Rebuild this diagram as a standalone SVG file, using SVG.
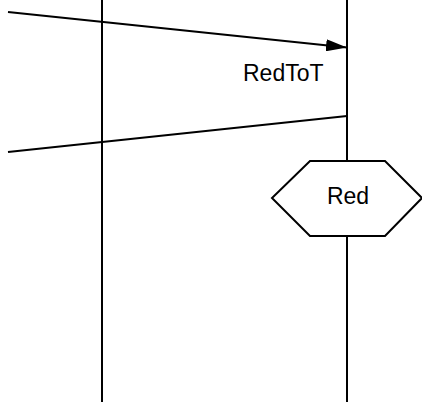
<svg xmlns="http://www.w3.org/2000/svg" width="422" height="402" viewBox="0 0 422 402">
<defs>
<style>
.ln{stroke:#000;stroke-width:2;fill:none}
.lbl{font-family:"Liberation Sans",Arial,sans-serif;font-size:23px;fill:#000}
</style>
<marker id="ah" markerUnits="userSpaceOnUse" markerWidth="22" markerHeight="12" refX="21" refY="6" orient="auto">
<path d="M0,0 L21,6 L0,12 Z" fill="#000"/>
</marker>
</defs>
<rect width="422" height="402" fill="#fff"/>
<g id="lifelines">
<line class="ln" x1="102" y1="0" x2="102" y2="402"/>
<line class="ln" x1="347" y1="0" x2="347" y2="402"/>
</g>
<g id="connectors">
<line class="ln" x1="8" y1="12" x2="347" y2="47.5" marker-end="url(#ah)"/>
<text class="lbl" x="243" y="80.5">RedToT</text>
<line class="ln" x1="8" y1="152" x2="347" y2="116"/>
</g>
<g id="state-red">
<polygon class="ln" points="310,161 385,161 422,198 385,236 310,236 272,198" fill="#fff" style="fill:#fff"/>
<text class="lbl" x="348" y="204" text-anchor="middle">Red</text>
</g>
</svg>
